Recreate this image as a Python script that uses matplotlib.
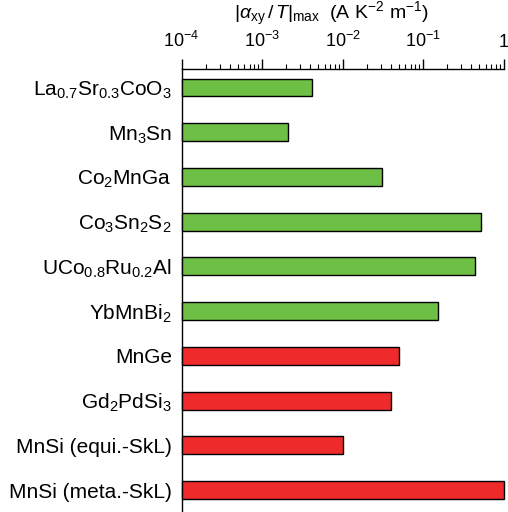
import numpy as np
import matplotlib
matplotlib.use('Agg')
import matplotlib.pyplot as plt

## Data: materials and max |alpha_xy / T| (A K^-2 m^-1)
materials = [r'La$_{0.7}$Sr$_{0.3}$CoO$_3$', r'Mn$_3$Sn', r'Co$_2$MnGa', r'Co$_3$Sn$_2$S$_2$',
             r'UCo$_{0.8}$Ru$_{0.2}$Al', r'YbMnBi$_2$', 'MnGe', r'Gd$_2$PdSi$_3$',
             'MnSi (equi.-SkL)', 'MnSi (meta.-SkL)']
values = [4.06e-3, 2.01e-3, 0.0308, 0.52, 0.44, 0.153, 0.0506, 0.040, 0.0101, 1.02]
groups = ['green'] * 6 + ['red'] * 4
tick_vals = [1e-4, 1e-3, 1e-2, 1e-1, 1]
tick_labels = [r'10$^{-4}$', r'10$^{-3}$', r'10$^{-2}$', r'10$^{-1}$', '1']

## Fonts
plt.rcParams['font.family'] = ['Liberation Sans', 'DejaVu Sans']
plt.rcParams['mathtext.fontset'] = 'custom'
plt.rcParams['mathtext.rm'] = 'Liberation Sans'
plt.rcParams['mathtext.it'] = 'Liberation Sans:italic'
plt.rcParams['mathtext.bf'] = 'Liberation Sans:bold'

colors = {'green': '#6dbf45', 'red': '#ee2a2a'}

fig = plt.figure(figsize=(5.08, 5.12), dpi=100)
ax = fig.add_axes([181.5 / 508, 0.0, 322.0 / 508, 1 - 68.5 / 512])

ypos = np.arange(len(materials))
ax.barh(ypos, values, left=1e-4, height=0.40,
        color=[colors[g] for g in groups], edgecolor='black', linewidth=1.0, zorder=3,
        clip_on=False)

ax.set_xscale('log')
ax.set_xlim(1e-4, 1)
ax.set_ylim(len(materials) - 1 + 0.49, -0.425)

## Spines: only left and top
ax.spines['right'].set_visible(False)
ax.spines['bottom'].set_visible(False)
ax.spines['left'].set_linewidth(1.0)
ax.spines['top'].set_linewidth(1.0)

## Ticks on top axis
ax.xaxis.tick_top()
ax.set_xticks(tick_vals)
ax.set_xticklabels(tick_labels, fontsize=13)
ax.xaxis.set_minor_locator(matplotlib.ticker.LogLocator(base=10, subs=np.arange(2, 10)))
ax.xaxis.set_minor_formatter(matplotlib.ticker.NullFormatter())
ax.tick_params(axis='x', which='major', direction='out', length=7.5, width=1.0, pad=5)
ax.tick_params(axis='x', which='minor', direction='out', length=3.6, width=0.8)

## Material labels
ax.set_yticks(ypos)
ax.set_yticklabels(materials, fontsize=15)
ax.tick_params(axis='y', length=0, pad=7)

## Axis title above the ticks
fig.text(331.0 / 508, 1 - 14.0 / 512,
         r'$|\alpha_{\rm xy}\,/\,T|_{\rm max}$  (A K$^{-2}$ m$^{-1}$)',
         ha='center', va='center', fontsize=14)

plt.savefig('out.png', dpi=100)
